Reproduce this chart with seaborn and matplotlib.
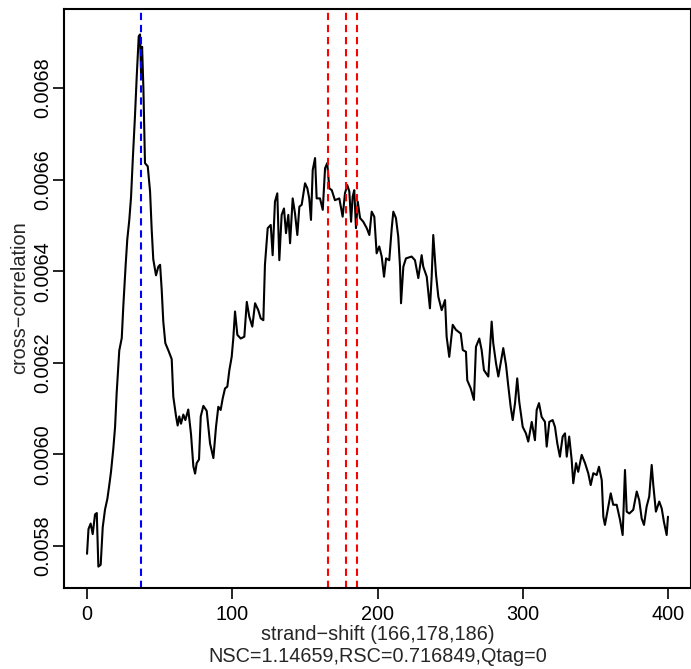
import matplotlib
matplotlib.use("Agg")
import matplotlib.pyplot as plt
import seaborn as sns
import pandas as pd

# strand cross-correlation profile
shift = [0, 1, 2.5, 3.9, 5.5, 6.7, 7.8, 9.4, 10.8, 12.4, 14.0, 15.4, 16.5, 18.1, 19.3, 20.4,
         22.2, 23.9, 25.0, 26.6, 27.7, 29.1, 30.3, 31.5, 33.0, 34.2, 35.6, 36.5, 37.2, 37.9,
         38.8, 39.9, 41.8, 43.4, 44.5, 45.6, 47.5, 49.1, 50.3, 51.4, 52.5, 53.9, 56.0, 58.3,
         59.4, 61.3, 62.4, 63.5, 64.7, 66.3, 67.7, 69.7, 71.6, 73.2, 74.4, 75.5, 77.1, 78.3,
         80.1, 82.4, 84.7, 87.0, 88.8, 90.4, 92.0, 93.4, 95.0, 96.6, 98.0, 99.6, 100.7, 101.9,
         103.5, 105.8, 108.3, 110.0, 111.7, 113.8, 115.7, 117.9, 119.6, 121.4, 122.5, 124.4,
         126.5, 127.8, 129.4, 131.0, 132.4, 134.0, 135.6, 137.0, 138.6, 139.8, 141.6, 143.2,
         144.8, 146.2, 147.8, 150.1, 151.7, 153.0, 154.2, 155.4, 157.0, 158.1, 160.4, 162.3,
         163.9, 165.4, 166.8, 168.5, 170.7, 173.7, 176.0, 177.6, 179.2, 180.6, 181.8, 182.9,
         184.0, 185.2, 186.4, 188.0, 190.2, 192.6, 194.4, 196.0, 197.8, 199.4, 201.2, 202.9,
         204.5, 205.9, 208.1, 209.8, 210.9, 212.7, 214.3, 215.5, 216.2, 217.8, 219.6, 223.5,
         225.8, 228.1, 230.4, 231.5, 233.9, 236.1, 237.3, 238.4, 240.3, 241.9, 244.2, 246.5,
         247.6, 249.4, 251.8, 254.0, 257.3, 258.7, 260.9, 261.8, 264.2, 266.4, 267.8, 270.1,
         271.7, 273.3, 276.3, 278.6, 279.7, 281.6, 283.2, 284.8, 286.6, 288.5, 290.1, 291.7,
         293.1, 294.7, 296.2, 297.6, 300.0, 302.2, 303.8, 306.2, 308.4, 309.6, 311.2, 313.0,
         315.3, 316.5, 318.3, 320.6, 322.2, 323.8, 325.6, 327.5, 329.1, 330.3, 332.0, 333.7,
         334.8, 336.7, 338.2, 340.6, 342.9, 345.1, 346.8, 348.6, 350.9, 352.5, 354.4, 355.5,
         356.6, 358.5, 360.6, 362.3, 364.7, 367.0, 368.8, 370.4, 371.6, 373.4, 376.1, 378.5,
         380.2, 381.9, 383.5, 385.3, 387.1, 388.8, 389.9, 391.7, 394.0, 395.7, 397.2, 399.1,
         400.0]
cc = [0.005783, 0.005837, 0.005849, 0.005826, 0.005869, 0.005872, 0.005755, 0.005759,
      0.005841, 0.005880, 0.005903, 0.005935, 0.005962, 0.006013, 0.006060, 0.006134,
      0.006227, 0.006254, 0.006325, 0.006414, 0.006469, 0.006512, 0.006562, 0.006644,
      0.006738, 0.006824, 0.006913, 0.006917, 0.006831, 0.006890, 0.006800, 0.006636,
      0.006629, 0.006574, 0.006492, 0.006426, 0.006391, 0.006410, 0.006414, 0.006360,
      0.006290, 0.006243, 0.006227, 0.006208, 0.006126, 0.006083, 0.006063, 0.006083,
      0.006067, 0.006087, 0.006075, 0.006098, 0.006044, 0.005974, 0.005958, 0.005981,
      0.005989, 0.006083, 0.006106, 0.006095, 0.006024, 0.005992, 0.006060, 0.006104,
      0.006097, 0.006122, 0.006144, 0.006148, 0.006184, 0.006213, 0.006253, 0.006312,
      0.006261, 0.006253, 0.006257, 0.006333, 0.006301, 0.006279, 0.006330, 0.006315,
      0.006297, 0.006293, 0.006414, 0.006494, 0.006501, 0.006435, 0.006552, 0.006570,
      0.006424, 0.006523, 0.006537, 0.006483, 0.006523, 0.006461, 0.006559, 0.006526,
      0.006479, 0.006541, 0.006545, 0.006592, 0.006581, 0.006559, 0.006512, 0.006621,
      0.006647, 0.006559, 0.006559, 0.006534, 0.006625, 0.006636, 0.006581, 0.006577,
      0.006555, 0.006559, 0.006519, 0.006570, 0.006588, 0.006574, 0.006508, 0.006563,
      0.006577, 0.006494, 0.006552, 0.006516, 0.006508, 0.006494, 0.006479, 0.006530,
      0.006519, 0.006439, 0.006454, 0.006432, 0.006388, 0.006428, 0.006424, 0.006494,
      0.006530, 0.006516, 0.006475, 0.006410, 0.006330, 0.006410, 0.006428, 0.006432,
      0.006424, 0.006385, 0.006435, 0.006410, 0.006388, 0.006319, 0.006388, 0.006479,
      0.006392, 0.006344, 0.006315, 0.006337, 0.006257, 0.006213, 0.006283, 0.006272,
      0.006264, 0.006228, 0.006224, 0.006162, 0.006144, 0.006119, 0.006235, 0.006253,
      0.006228, 0.006184, 0.006170, 0.006290, 0.006243, 0.006199, 0.006170, 0.006199,
      0.006232, 0.006195, 0.006148, 0.006104, 0.006075, 0.006112, 0.006166, 0.006115,
      0.006060, 0.006046, 0.006028, 0.006071, 0.006031, 0.006097, 0.006112, 0.006082,
      0.006071, 0.006017, 0.006071, 0.006075, 0.006060, 0.006024, 0.005995, 0.006039,
      0.006046, 0.005995, 0.006039, 0.005988, 0.005937, 0.005981, 0.005962, 0.005999,
      0.005981, 0.005959, 0.005933, 0.005959, 0.005955, 0.005973, 0.005944, 0.005864,
      0.005846, 0.005879, 0.005915, 0.005890, 0.005890, 0.005857, 0.005824, 0.005966,
      0.005875, 0.005871, 0.005879, 0.005919, 0.005900, 0.005860, 0.005846, 0.005886,
      0.005908, 0.005977, 0.005933, 0.005875, 0.005897, 0.005882, 0.005853, 0.005824,
      0.005864]

phantom_shift = [37]
fragment_shifts = [166, 178, 186]
nsc, rsc, qtag = 1.14659, 0.716849, 0

x_ticks = [0, 100, 200, 300, 400]
y_ticks = [0.0058, 0.0060, 0.0062, 0.0064, 0.0066, 0.0068]
y_tick_labels = ["0.0058", "0.0060", "0.0062", "0.0064", "0.0066", "0.0068"]

sns.set_style("ticks")
plt.rcParams["font.family"] = ["Liberation Sans", "DejaVu Sans"]
plt.rcParams["axes.unicode_minus"] = True

W, H = 691, 669
fig = plt.figure(figsize=(W / 100, H / 100), dpi=100)
ax = fig.add_axes([63.8 / W, 81 / H, 627.4 / W, 579 / H])

df = pd.DataFrame({"shift": shift, "cc": cc})
sns.lineplot(data=df, x="shift", y="cc", ax=ax, color="black", linewidth=1.5,
             estimator=None, sort=False)

dash = (0, (3.5, 2.3))
for s in phantom_shift:
    ax.axvline(s, color="#0000ff", linewidth=1.5, linestyle=dash)
for s in fragment_shifts:
    ax.axvline(s, color="#ff0000", linewidth=1.5, linestyle=dash)

ax.set_xlim(-16, 416)
ax.set_ylim(0.0057083, 0.0069725)
ax.set_xticks(x_ticks)
ax.set_xticklabels([str(t) for t in x_ticks])
ax.set_yticks(y_ticks)
ax.set_yticklabels(y_tick_labels)
plt.setp(ax.get_yticklabels(), rotation=90, va="center")

for sp in ax.spines.values():
    sp.set_visible(True)
    sp.set_linewidth(1.5)
    sp.set_color("black")

ax.tick_params(axis="both", direction="out", length=7.9, width=1.2,
               labelsize=14.3, colors="black")
ax.tick_params(axis="x", pad=4.4)
ax.tick_params(axis="y", pad=0.5)

xlab = "strand\u2212shift (" + ",".join(str(s) for s in fragment_shifts) + ")\n" + \
       f"NSC={nsc},RSC={rsc},Qtag={qtag}"
ax.set_xlabel(xlab, fontsize=14.3, linespacing=1.2, labelpad=1)
ax.set_ylabel("")
fig.text(20 / W, 1 - 298 / H, "cross\u2212correlation", rotation=90,
         ha="center", va="center", fontsize=14.3)

fig.savefig("out.png", dpi=100)
